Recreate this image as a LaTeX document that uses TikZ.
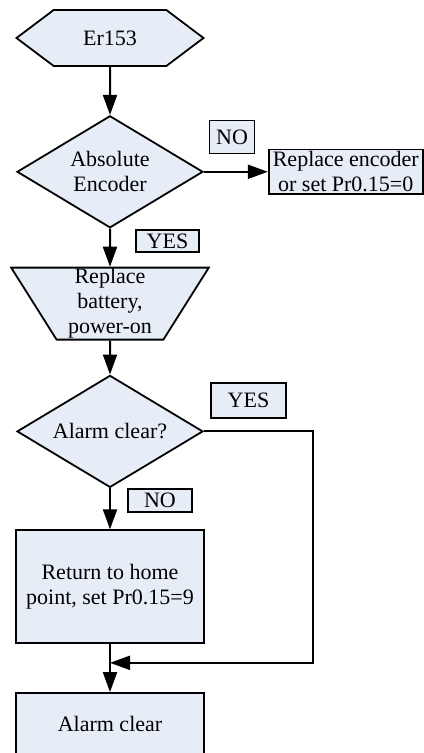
\documentclass[tikz,border=0pt]{standalone}
\usepackage{fontspec}
\setmainfont{Liberation Serif}
\usetikzlibrary{positioning, arrows.meta, calc, shapes.geometric, shapes.symbols}
\definecolor{ERRfill}{RGB}{231, 237, 247}
\tikzset{
  base/.style={draw=black, line width=0.9pt, fill=ERRfill, align=center,
    inner sep=1pt, font=\fontsize{11}{12.5}\selectfont},
  term/.style={base, signal, signal to=west and east, signal pointer angle=74,
    minimum width=93.5pt, minimum height=28pt},
  decide/.style={base, diamond, aspect=1.66, minimum width=93pt, minimum height=56pt},
  manual/.style={base, trapezium, shape border rotate=180, trapezium left angle=63,
    trapezium right angle=63, trapezium stretches=true, minimum width=99.5pt,
    minimum height=36pt, inner sep=0pt},
  proc/.style={base, rectangle, minimum width=94pt},
  tag/.style={base, rectangle, line width=0.8pt, inner sep=0pt},
  flow/.style={-{Triangle[length=10pt, width=7pt]}, line width=1pt},
}
\begin{document}
\begin{tikzpicture}[x=0.5pt, y=-0.5pt]
    \useasboundingbox (0,0) rectangle (423,753);
    \node[term] (er) at (110,38) {Er153};
    \node[decide, below=24pt of er] (abs) {Absolute\\Encoder};
    \node[proc, minimum width=77pt, minimum height=22pt, right=32pt of abs] (enc) {Replace encoder\\or set Pr0.15=0};
    \node[manual, below=19pt of abs] (bat) {Replace\\battery,\\power-on};
    \node[decide, below=17pt of bat] (clr) {Alarm clear?};
    \node[proc, minimum height=56.5pt, below=20.5pt of clr] (home) {Return to home\\point, set Pr0.15=9};
    \node[proc, minimum height=31pt, below=24pt of home] (done) {Alarm clear};
    % branch labels
    \node[tag, minimum width=22.5pt, minimum height=16.5pt] (no1) at (232,137) {NO};
    \node[tag, minimum width=31.5pt, minimum height=11pt] (yes1) at (167.5,241) {YES};
    \node[tag, minimum width=37.5pt, minimum height=17.5pt] (yes2) at (248.5,400.5) {YES};
    \node[tag, minimum width=32pt, minimum height=11.5pt] (no2) at (160,500.5) {NO};
    \coordinate (mrg) at ($(home.south)!0.39!(done.north)$);
    \draw[flow] (er)-- (abs); \draw[flow] (abs)-- (enc);
    \draw[flow] (abs)-- (bat); \draw[flow] (bat)-- (clr);
    \draw[flow] (clr)-- (home); \draw[flow] (home)-- (done);
    \draw[flow] (clr.east)-- ++(109,0) |- (mrg);
  \end{tikzpicture}
\end{document}
